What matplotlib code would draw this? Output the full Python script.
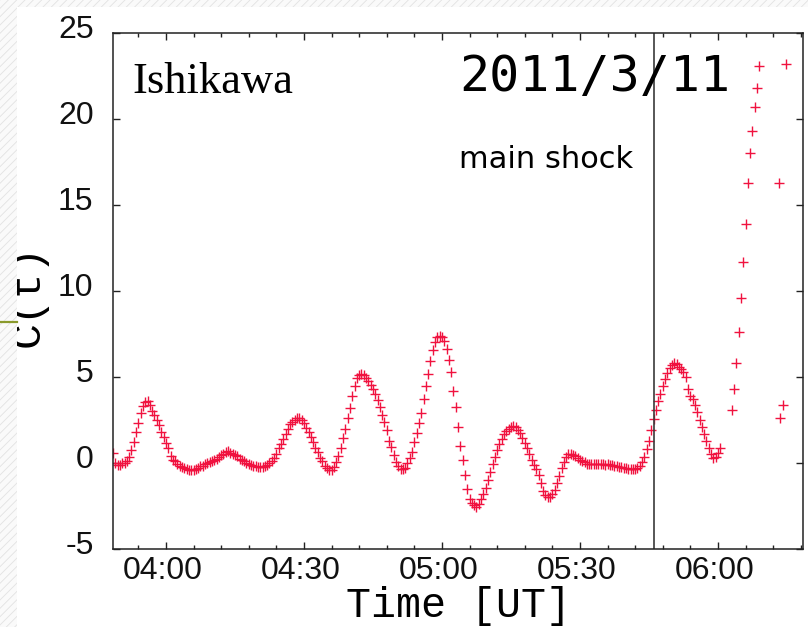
import numpy as np
import matplotlib.pyplot as plt
import matplotlib.transforms as mtransforms
from matplotlib.patches import Rectangle
from matplotlib.lines import Line2D
from matplotlib.ticker import MultipleLocator, FuncFormatter

# C(t) sampled every 30 s, time in minutes after 00:00 UT
t_start = 228.5
t_step = 0.5
c_main = [
    0.6, 0.0, -0.1, -0.1, 0.0, 0.0, 0.1, 0.35, 0.75, 1.2,
    1.8, 2.35, 2.9, 3.3, 3.55, 3.6, 3.35, 3.05, 2.8, 2.5,
    2.2, 1.8, 1.5, 1.15, 0.9, 0.4, 0.2, 0.1, -0.05, -0.15,
    -0.25, -0.3, -0.35, -0.4, -0.42, -0.42, -0.35, -0.3, -0.2, -0.15,
    -0.05, 0.0, 0.05, 0.1, 0.2, 0.25, 0.35, 0.45, 0.55, 0.65,
    0.7, 0.6, 0.5, 0.45, 0.4, 0.25, 0.15, 0.1, 0.0, -0.05,
    -0.1, -0.15, -0.2, -0.23, -0.23, -0.25, -0.2, -0.12, 0.0, 0.1,
    0.3, 0.55, 0.85, 1.1, 1.4, 1.7, 2.0, 2.25, 2.4, 2.5,
    2.6, 2.6, 2.5, 2.3, 2.05, 1.8, 1.5, 1.2, 0.9, 0.65,
    0.3, 0.1, -0.15, -0.3, -0.42, -0.4, -0.25, 0.05, 0.4, 0.9,
    1.45, 2.0, 2.6, 3.2, 3.9, 4.5, 4.95, 5.1, 5.17, 5.1,
    4.95, 4.75, 4.55, 4.3, 4.0, 3.65, 3.25, 2.8, 2.4, 1.9,
    1.3, 0.95, 0.45, 0.05, -0.2, -0.35, -0.37, -0.27, 0.0, 0.3,
    0.65, 1.2, 1.75, 2.3, 2.9, 3.7, 4.45, 5.2, 5.95, 6.55,
    7.05, 7.3, 7.4, 7.35, 7.1, 6.6, 6.0, 5.3, 4.2, 3.25,
    2.1, 1.0, 0.2, -0.7, -1.5, -2.1, -2.35, -2.45, -2.55, -2.4,
    -2.1, -1.8, -1.45, -1.0, -0.5, -0.05, 0.35, 0.75, 1.1, 1.4,
    1.66, 1.85, 2.0, 2.1, 2.14, 2.08, 1.9, 1.72, 1.45, 1.18,
    0.85, 0.5, 0.15, -0.1, -0.35, -0.7, -1.14, -1.62, -1.85, -2.0,
    -1.95, -1.8, -1.55, -1.15, -0.75, -0.3, 0.05, 0.32, 0.5, 0.52,
    0.45, 0.4, 0.3, 0.2, 0.12, 0.03, -0.05, -0.08, -0.08, -0.05,
    -0.08, -0.08, -0.06, -0.08, -0.1, -0.08, -0.1, -0.12, -0.15, -0.2,
    -0.25, -0.25, -0.28, -0.3, -0.32, -0.35, -0.37, -0.35, -0.3, -0.15,
    0.05, 0.35, 0.8, 1.3, 1.9, 2.55, 3.1, 3.6, 4.0, 4.45,
    4.9, 5.25, 5.55, 5.7, 5.8, 5.75, 5.6, 5.45, 5.3, 5.0,
    4.3, 3.9, 3.7, 3.4, 2.95, 2.5, 2.1, 1.7, 1.3, 0.9,
    0.5, 0.3, 0.35, 0.6, 0.9,
]
t_main = t_start + t_step * np.arange(len(c_main))

# scattered values after the shock
t_late = [363.0, 363.5, 364.0, 364.5, 365.0, 365.5, 366.0, 366.5, 367.0,
          367.5, 368.0, 368.5, 369.0, 373.3, 373.5, 374.1, 374.8]
c_late = [3.1, 4.3, 5.8, 7.6, 9.6, 11.7, 13.9, 16.3, 18.0,
          19.3, 20.7, 21.8, 23.1, 16.3, 2.6, 3.4, 23.2]

shock_time = 346.0   # 05:46 UT
x_range = (228.5, 378.5)
y_range = (-5, 25)
x_major = [240, 270, 300, 330, 360]
y_major = [-5, 0, 5, 10, 15, 20, 25]

red = '#f0123f'
W, H = 808, 627

plt.rcParams['hatch.linewidth'] = 0.6
plt.rcParams['axes.unicode_minus'] = False

fig = plt.figure(figsize=(W / 100, H / 100), dpi=100)
fig.patch.set_facecolor('white')
ax = fig.add_axes([113 / W, 1 - 549 / H, 690 / W, 516 / H])

ax.plot(t_main, c_main, ls='none', marker='+', ms=7, mew=1.0, color=red)
ax.plot(t_late, c_late, ls='none', marker='+', ms=7, mew=1.0, color=red)
ax.axvline(shock_time, color='#3a3a3a', lw=1.2)

ax.set_xlim(*x_range)
ax.set_ylim(*y_range)
ax.set_xticks(x_major)
ax.set_yticks(y_major)
ax.xaxis.set_minor_locator(MultipleLocator(6))
ax.xaxis.set_major_formatter(FuncFormatter(lambda v, p: '%02d:%02d' % (v // 60, v % 60)))

for s in ax.spines.values():
    s.set_linewidth(1.1)
    s.set_color('#222222')
ax.tick_params(which='both', direction='in', top=True, right=True, color='#222222')
ax.tick_params(which='major', length=5, width=1)
ax.tick_params(which='minor', length=3, width=1)
ax.tick_params(axis='y', pad=14)
ax.tick_params(axis='x', pad=5)
for lab in ax.get_xticklabels() + ax.get_yticklabels():
    lab.set_fontfamily('Liberation Sans')
    lab.set_fontsize(23)
    lab.set_color('#111111')

# y labels sit a little high, x labels a little left
up = mtransforms.ScaledTranslation(0, 6 / 100, fig.dpi_scale_trans)
for lab in ax.get_yticklabels():
    lab.set_transform(lab.get_transform() + up)
left = mtransforms.ScaledTranslation(-3 / 100, 0, fig.dpi_scale_trans)
for lab in ax.get_xticklabels():
    lab.set_transform(lab.get_transform() + left)

ax.set_xlabel('Time [UT]', family='Liberation Mono', fontsize=30, labelpad=0)

ax.text(0.0275, 0.884, 'Ishikawa', transform=ax.transAxes, family='Liberation Serif',
        fontsize=32, va='baseline', ha='left')
ax.text(0.502, 0.888, '2011/3/11', transform=ax.transAxes, family='DejaVu Sans Mono',
        fontsize=36, va='baseline', ha='left')
ax.text(0.5015, 0.738, 'main shock', transform=ax.transAxes, family='DejaVu Sans',
        fontsize=22, va='baseline', ha='left')

fig.text(28 / W, 1 - 295 / H, 'C(t)', rotation=90, family='Liberation Mono',
         fontsize=31, ha='center', va='center')

# slide background strips around the plot
left_strip = Rectangle((0, 0), 17 / W, 1, transform=fig.transFigure, facecolor='#fafafa',
                       edgecolor='#e2e2e2', hatch='////', lw=0, zorder=10)
top_strip = Rectangle((0, 1 - 7 / H), 1, 7 / H, transform=fig.transFigure, facecolor='#fafafa',
                      edgecolor='#e2e2e2', hatch='////', lw=0, zorder=10)
fig.add_artist(left_strip)
fig.add_artist(top_strip)
fig.add_artist(Line2D([0, 17 / W], [1 - 322 / H] * 2, transform=fig.transFigure,
                      color='#8a9a2c', lw=1.6, zorder=11))

fig.savefig('out.png', dpi=100)
